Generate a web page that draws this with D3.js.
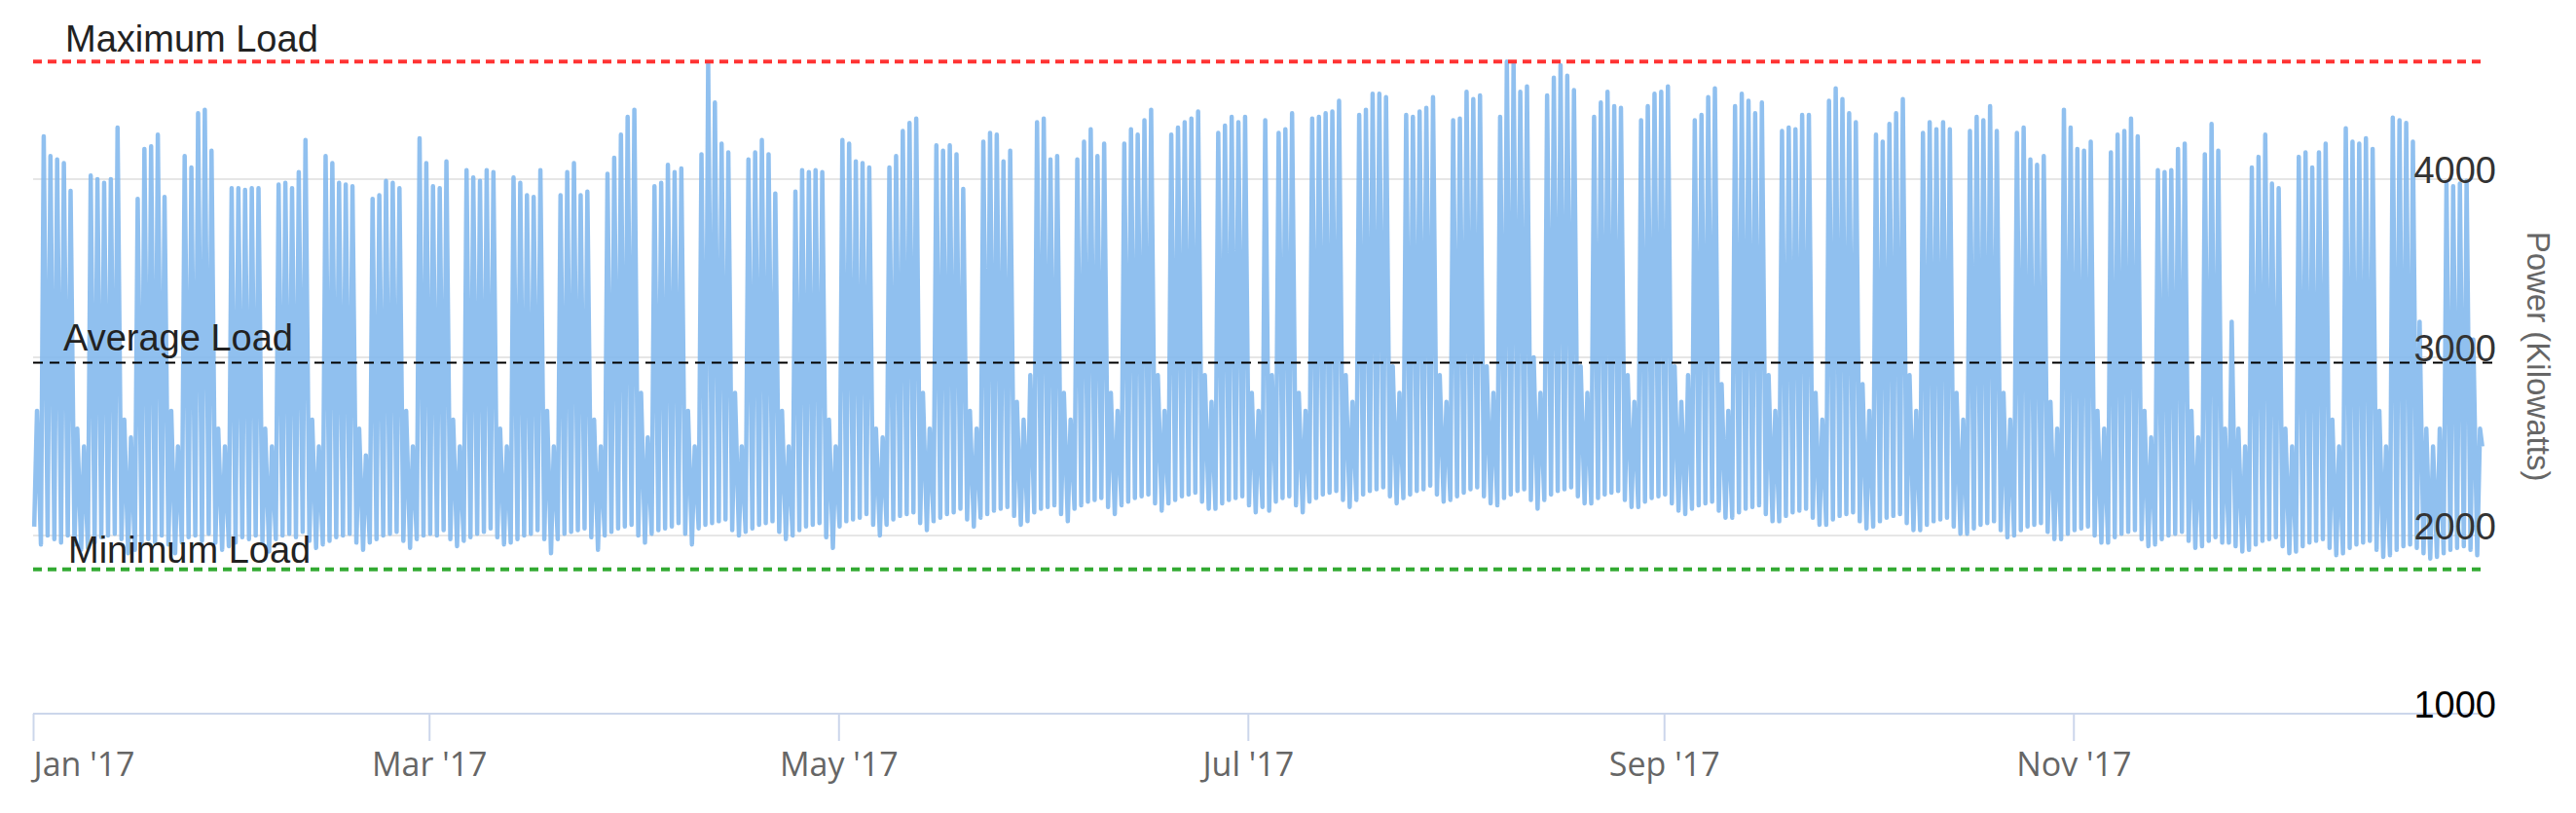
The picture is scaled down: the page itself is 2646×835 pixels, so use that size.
<!DOCTYPE html>
<html><head><meta charset="utf-8">
<script src="https://cdn.jsdelivr.net/npm/d3@7"></script>
<style>body{margin:0;background:#fff}svg{display:block}</style>
</head><body>
<svg id="c" width="2646" height="835"></svg>
<script>
// Daily peak load (kW), week rows Mon..Sun; first row is Sun Jan 1 2017
const dailyPeak = [
 [2700],
 [4240,4130,4110,4090,3935,2600,2500],
 [4020,4000,3980,4000,4290,2650,2550],
 [3890,4170,4185,4250,3900,2700,2500],
 [4130,4065,4370,4390,4160,2600,2500],
 [3950,3950,3940,3950,3950,2600,2500],
 [3970,3980,3950,4040,4220,2650,2500],
 [4130,4090,3980,3970,3960,2600,2450],
 [3890,3910,3990,3980,3950,2700,2500],
 [4230,4090,3960,3950,4100,2650,2500],
 [4050,4010,3990,4050,4040,2600,2500],
 [4010,3980,3910,3900,4050,2700,2500],
 [3910,4040,4090,3910,3930,2650,2500],
 [4030,4120,4250,4350,4390,2800,2550],
 [3960,3980,4080,4040,4060,2700,2500],
 [4140,4650,4430,4200,4150,2800,2500],
 [4110,4150,4220,4140,3920,2700,2500],
 [3930,4050,4040,4050,4040,2650,2500],
 [4220,4200,4100,4090,4065,2600,2550],
 [4065,4130,4270,4315,4340,2800,2600],
 [4190,4160,4190,4140,3945,2700,2600],
 [4210,4260,4250,4100,4160,2750,2650],
 [2900,4320,4340,4110,4130,2800,2650],
 [4110,4210,4280,4130,4200,2800,2700],
 [4200,4280,4250,4330,4390,2900,2700],
 [4250,4290,4320,4340,4380,2900,2750],
 [4260,4300,4350,4320,4350,2800,2700],
 [4330,2900,4260,4280,4370,2800,2700],
 [4340,4350,4370,4380,4440,2900,2750],
 [4360,4390,4480,4480,4460,2950,2800],
 [4360,4350,4380,4400,4460,2900,2750],
 [4330,4340,4490,4450,4470,2950,2800],
 [4350,4660,4650,4490,4520,3000,2800],
 [4470,4570,4640,4580,4500,2950,2800],
 [4350,4430,4490,4410,4400,2900,2750],
 [4330,4410,4480,4490,4520,2950,2750],
 [2900,4330,4360,4460,4510,2850,2700],
 [4410,4480,4440,4370,4430,2900,2700],
 [4270,4290,4280,4360,4360,2800,2650],
 [4440,4510,4450,4370,4320,2850,2700],
 [4250,4210,4310,4370,4450,2900,2700],
 [4260,4320,4280,4320,4280,2800,2650],
 [4270,4350,4330,4410,4270,2800,2650],
 [4260,4290,4110,4080,4130,2750,2600],
 [4390,4290,4170,4160,4210,2700,2600],
 [4150,4250,4270,4340,4240,2700,2550],
 [4050,4040,4050,4170,4200,2700,2550],
 [4140,4310,4160,2600,3200,2600,2500],
 [4065,4125,4250,3975,3950,2600,2500],
 [4125,4150,4065,4150,4200,2650,2500],
 [4285,4210,4200,4230,4170,2700,2500],
 [4345,4330,4315,4210,3200,2600,2500],
 [2600,3975,3960,3975,3990,3100,2600]
];
// Daily night-time low load (kW), same layout
const dailyLow = [
 [2050],
 [1950,2000,1980,1960,2000,1950,1920],
 [1930,1960,1990,2000,2010,1980,1900],
 [1920,1950,1980,1960,2000,1950,1900],
 [1960,1990,2000,1970,2010,1960,1920],
 [1940,1960,1990,1980,2000,1960,1910],
 [1980,2000,2010,1990,2020,1970,1930],
 [1950,1970,1990,2000,2010,1960,1920],
 [1960,1980,2000,2010,2020,1970,1930],
 [1980,2000,2010,2000,2030,1980,1940],
 [1970,1990,2010,2020,2040,1990,1950],
 [1960,1980,2000,2010,2030,1980,1900],
 [1980,2010,2020,2030,2040,1990,1920],
 [2000,2020,2040,2050,2060,2000,1960],
 [2010,2030,2040,2050,2070,2010,1950],
 [2040,2060,2070,2080,2090,2030,2000],
 [2020,2040,2060,2070,2080,2020,1980],
 [2000,2030,2050,2060,2070,1990,1930],
 [2050,2080,2090,2100,2120,2060,2000],
 [2060,2090,2110,2120,2130,2070,2030],
 [2080,2100,2120,2130,2150,2090,2050],
 [2100,2120,2140,2150,2160,2110,2060],
 [2080,2130,2150,2160,2170,2120,2080],
 [2150,2170,2190,2200,2210,2160,2120],
 [2170,2190,2210,2220,2230,2180,2140],
 [2180,2200,2220,2230,2240,2190,2150],
 [2150,2180,2200,2210,2220,2170,2130],
 [2160,2140,2190,2210,2220,2170,2130],
 [2190,2210,2230,2240,2250,2200,2160],
 [2200,2230,2250,2260,2270,2220,2180],
 [2210,2230,2250,2260,2280,2230,2190],
 [2200,2220,2240,2260,2270,2220,2180],
 [2170,2210,2230,2250,2260,2200,2150],
 [2200,2230,2250,2260,2270,2220,2180],
 [2180,2210,2230,2240,2250,2200,2160],
 [2160,2190,2210,2220,2230,2180,2140],
 [2120,2150,2170,2180,2190,2140,2100],
 [2100,2130,2150,2160,2170,2120,2080],
 [2080,2110,2130,2140,2150,2100,2060],
 [2060,2090,2110,2120,2130,2080,2040],
 [2050,2080,2100,2110,2120,2070,2030],
 [2030,2060,2080,2090,2100,2050,2010],
 [2010,2040,2060,2070,2080,2030,1990],
 [2000,2030,2050,2060,2070,2020,1980],
 [1980,2010,2030,2040,2050,2000,1960],
 [1960,1990,2010,2020,2030,1980,1940],
 [1950,1980,2000,2010,2020,1970,1930],
 [1940,1970,1990,1960,1960,1940,1910],
 [1920,1950,1970,1980,1990,1940,1900],
 [1910,1940,1960,1970,1980,1930,1890],
 [1900,1930,1950,1960,1970,1920,1880],
 [1890,1920,1940,1950,1930,1900,1870],
 [1880,1900,1920,1930,1940,1920,1890]
];
const maxLoad = 4660, avgLoad = 2970, minLoad = 1810;
const refLabels = ["Maximum Load","Average Load","Minimum Load"];
const yTicks = [1000,2000,3000,4000];
const yTitle = "Power (Kilowatts)";

const svg = d3.select("#c");
const L = 34, R = 2550, T = 1, B = 733;
const x = d3.scaleTime().domain([new Date(2017,0,1), new Date(2017,11,31,23)]).range([L,R]);
const y = d3.scaleLinear().domain([1000,5000]).range([B,T]);

const peaks = dailyPeak.flat(), lows = dailyLow.flat();
const pts = [];
peaks.forEach((p,i)=>{
  pts.push([new Date(2017,0,1+i,4), lows[i]]);
  pts.push([new Date(2017,0,1+i,14), p]);
});
pts.push([new Date(2017,11,31,22), 2500]);

svg.append("g").selectAll("line").data(yTicks.filter(t=>t>1000)).join("line")
  .attr("x1",L).attr("x2",R).attr("y1",d=>y(d)).attr("y2",d=>y(d))
  .attr("stroke","#e6e6e6").attr("stroke-width",2);

svg.append("path").datum(pts)
  .attr("d", d3.line().x(d=>x(d[0])).y(d=>y(d[1])))
  .attr("fill","none").attr("stroke","#7cb5ec").attr("stroke-width",4.5)
  .attr("stroke-opacity",0.85).attr("stroke-linejoin","round");

const xa = svg.append("g").attr("transform",`translate(0,${B})`)
  .call(d3.axisBottom(x).ticks(d3.timeMonth.every(2)).tickFormat(d3.timeFormat("%b '%y")).tickSize(28).tickSizeOuter(0));
xa.select(".domain").attr("stroke","#ccd6eb").attr("stroke-width",2).attr("d",`M${L},0H${R}`);
xa.selectAll(".tick line").attr("stroke","#ccd6eb").attr("stroke-width",2);
xa.selectAll(".tick text").attr("font-family","'Open Sans',sans-serif").attr("font-size",34)
  .attr("fill","#666").attr("y",40).attr("dy","0.71em");
xa.select(".tick text").attr("text-anchor","start");

const ya = svg.append("g").attr("transform",`translate(2564,0)`)
  .call(d3.axisLeft(y).tickValues(yTicks).tickFormat(d3.format("d")).tickSize(0).tickPadding(0));
ya.select(".domain").remove();
ya.selectAll(".tick text").attr("font-family","Arial,'Liberation Sans',sans-serif").attr("font-size",38)
  .attr("fill",d=>d===1000?"#000":"#333").attr("dy","0.1em");

svg.append("text").attr("transform","translate(2596,366) rotate(90)")
  .attr("text-anchor","middle").attr("font-family","Arial,'Liberation Sans',sans-serif")
  .attr("font-size",33).attr("fill","#666").text(yTitle);

const refs = [
 {v:maxLoad,c:"#ff3333",w:4,da:"9,6",lx:67,ly:53,x2:R},
 {v:avgLoad,c:"#000",w:2,da:"10,7",lx:65,ly:360,x2:2565},
 {v:minLoad,c:"#33aa33",w:4,da:"9,6",lx:70,ly:578,x2:R}
];
refs.forEach((r,i)=>{
  svg.append("line").attr("x1",L).attr("x2",r.x2).attr("y1",y(r.v)).attr("y2",y(r.v))
    .attr("stroke",r.c).attr("stroke-width",r.w).attr("stroke-dasharray",r.da);
  svg.append("text").attr("x",r.lx).attr("y",r.ly).attr("font-family","Arial,'Liberation Sans',sans-serif")
    .attr("font-size",38).attr("fill","#222").text(refLabels[i]);
});
</script>
</body></html>
